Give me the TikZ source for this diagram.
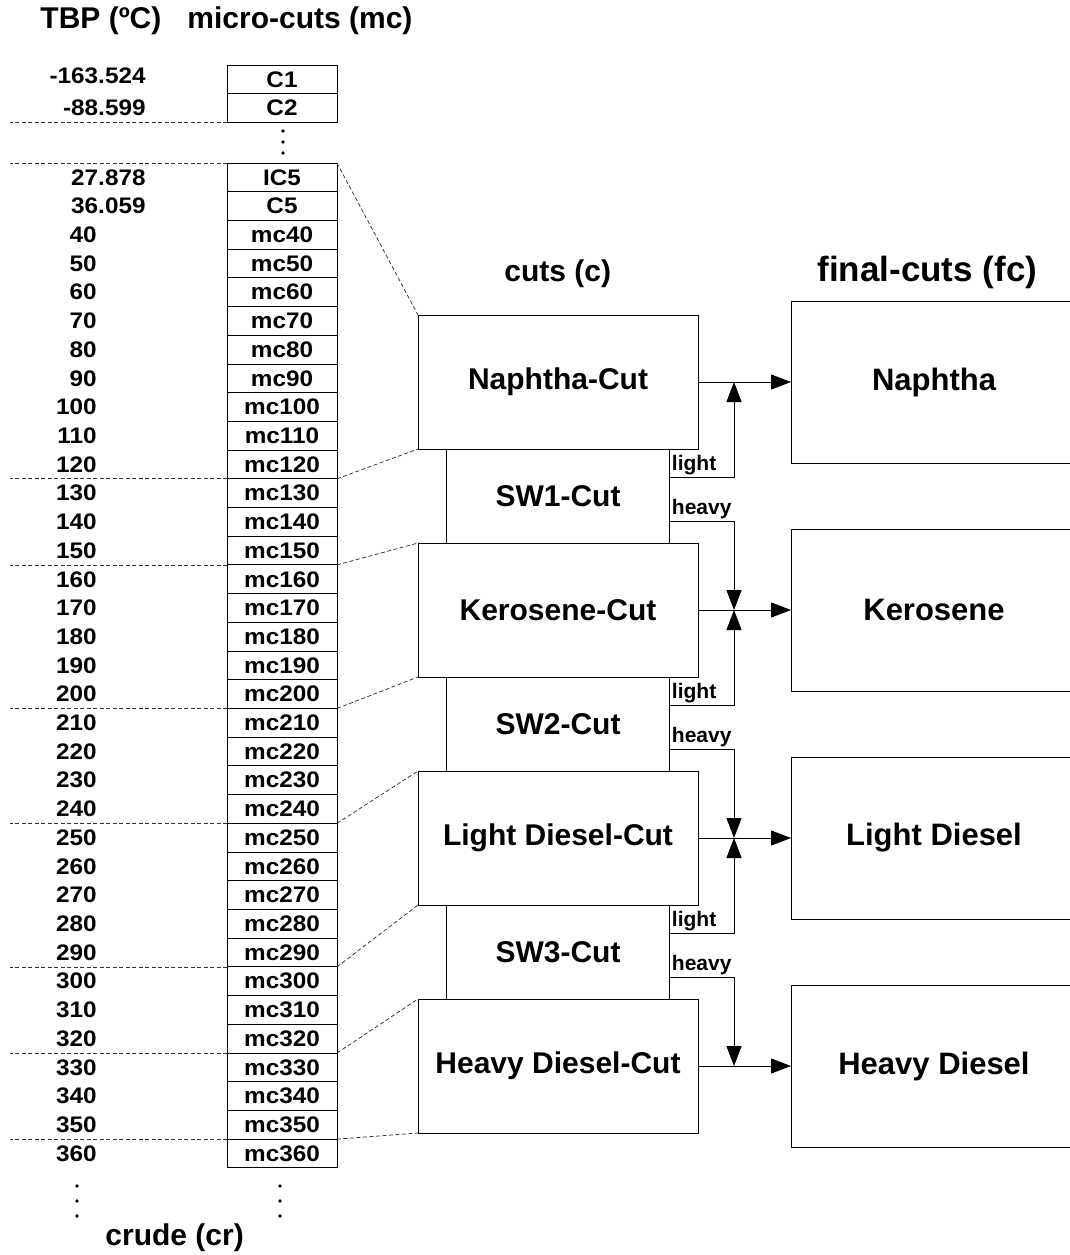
\documentclass[tikz,border=0pt]{standalone}
\usepackage{fontspec}
\setmainfont{Liberation Sans}
\newfontfamily\widesans{Liberation Sans}[FakeStretch=1.08]
\usetikzlibrary{arrows.meta,positioning}
\tikzset{mcbox/.style={draw,minimum width=110pt,minimum height=28.71pt,inner sep=0pt,outer sep=0pt,font=\widesans\bfseries\fontsize{22.5}{25}\selectfont},tbp/.style={inner sep=0pt,font=\widesans\bfseries\fontsize{22.5}{25}\selectfont},cutbox/.style={draw,minimum width=280pt,minimum height=134pt,outer sep=0pt,font=\bfseries\fontsize{30}{34}\selectfont},swbox/.style={draw,minimum width=223pt,minimum height=94pt,outer sep=0pt,font=\bfseries\fontsize{30}{34}\selectfont},finalbox/.style={draw,minimum width=286pt,minimum height=162pt,outer sep=0pt,font=\bfseries\fontsize{31}{34}\selectfont},arrow/.style={-{Triangle[length=20pt,width=15pt]}},cutline/.style={line width=0.75pt,dash pattern=on 4pt off 2.5pt,black!80},stream/.style={anchor=south west,inner sep=2pt,font=\bfseries\fontsize{21}{24}\selectfont},head/.style={anchor=base west,inner sep=0pt,font=\bfseries\fontsize{30}{33}\selectfont}}

\begin{document}
\begin{tikzpicture}[x=1pt,y=-1pt,line width=0.9pt,node distance=0pt]
\useasboundingbox (0,0) rectangle (1070,1255);
\node[head] (tbphead) at (40,29) {TBP (ºC)};
\node[head] (mchead) at (187,29) {micro-cuts (mc)};
\node[head] (cuthead) at (504,281) {cuts (c)};
\node[head,font=\bfseries\fontsize{35}{38}\selectfont] (fchead) at (817,281) {final-cuts (fc)};
\node[head] (crude) at (105,1245) {crude (cr)};
\coordinate (lft) at (10,0);
\coordinate (decx) at (146,0);
\coordinate (intx) at (97,0);
\coordinate (jx) at (734,0);
% micro-cuts
\node[mcbox,minimum height=28.5pt] (C1) at (282,79.5) {C1};
\node[mcbox,minimum height=28.5pt,below=of C1] (C2) {C2};
\node[mcbox] (IC5) at (282,177.35) {IC5};
\node[mcbox,below=of IC5] (C5) {C5};
\foreach \t [count=\k from 2] in {40,50,...,360}{
  \node[mcbox] (mc\t) at (282,{177.35+28.71*\k}) {mc\t};
  \node[tbp,anchor=east] at (mc\t.center -| intx) {\t};
}
\node[tbp,anchor=east] at ([yshift=4pt]C1.center -| decx) {-163.524};
\node[tbp,anchor=east] at (C2.center -| decx) {-88.599};
\node[tbp,anchor=east] at (IC5.center -| decx) {27.878};
\node[tbp,anchor=east] at (C5.center -| decx) {36.059};
\foreach \y in {131,142,153} \fill (283,\y) circle (1.8);
\foreach \y in {1186,1201,1216}{\fill (77,\y) circle (1.8); \fill (280,\y) circle (1.8);}
% cuts
\node[cutbox] (naphtha) at (558,382) {Naphtha-Cut};
\node[swbox,below=of naphtha] (sw1) {SW1-Cut};
\node[cutbox,below=of sw1] (kerosene) {Kerosene-Cut};
\node[swbox,below=of kerosene] (sw2) {SW2-Cut};
\node[cutbox,below=of sw2] (ldiesel) {Light Diesel-Cut};
\node[swbox,below=of ldiesel] (sw3) {SW3-Cut};
\node[cutbox,below=of sw3] (hdiesel) {Heavy Diesel-Cut};
% final cuts
\node[finalbox,right=93pt of naphtha] (fnaphtha) {Naphtha};
\node[finalbox,right=93pt of kerosene] (fkerosene) {Kerosene};
\node[finalbox,right=93pt of ldiesel] (fldiesel) {Light Diesel};
\node[finalbox,right=93pt of hdiesel] (fhdiesel) {Heavy Diesel};
% cut points
\foreach \n in {C2,mc120,mc150,mc200,mc240,mc290,mc320,mc350}
  \draw[cutline] (\n.south west) -- (\n.south west -| lft);
\draw[cutline] (IC5.north west) -- (IC5.north west -| lft);
\draw[cutline] (IC5.north east) -- (naphtha.north west);
\draw[cutline] (mc120.south east) -- (naphtha.south west);
\draw[cutline] (mc150.south east) -- (kerosene.north west);
\draw[cutline] (mc200.south east) -- (kerosene.south west);
\draw[cutline] (mc240.south east) -- (ldiesel.north west);
\draw[cutline] (mc290.south east) -- (ldiesel.south west);
\draw[cutline] (mc320.south east) -- (hdiesel.north west);
\draw[cutline] (mc350.south east) -- (hdiesel.south west);
% streams
\draw[arrow] (naphtha) -- (fnaphtha);
\draw[arrow] (kerosene) -- (fkerosene);
\draw[arrow] (ldiesel) -- (fldiesel);
\draw[arrow] (hdiesel) -- (fhdiesel);
\draw[arrow] ([yshift=-28pt]sw1.north east) node[stream]{light} -| (naphtha.east -| jx);
\draw[arrow] ([yshift=22pt]sw1.south east) node[stream]{heavy} -| (kerosene.east -| jx);
\draw[arrow] ([yshift=-28pt]sw2.north east) node[stream]{light} -| (kerosene.east -| jx);
\draw[arrow] ([yshift=22pt]sw2.south east) node[stream]{heavy} -| (ldiesel.east -| jx);
\draw[arrow] ([yshift=-28pt]sw3.north east) node[stream]{light} -| (ldiesel.east -| jx);
\draw[arrow] ([yshift=22pt]sw3.south east) node[stream]{heavy} -| (hdiesel.east -| jx);
\end{tikzpicture}
\end{document}
